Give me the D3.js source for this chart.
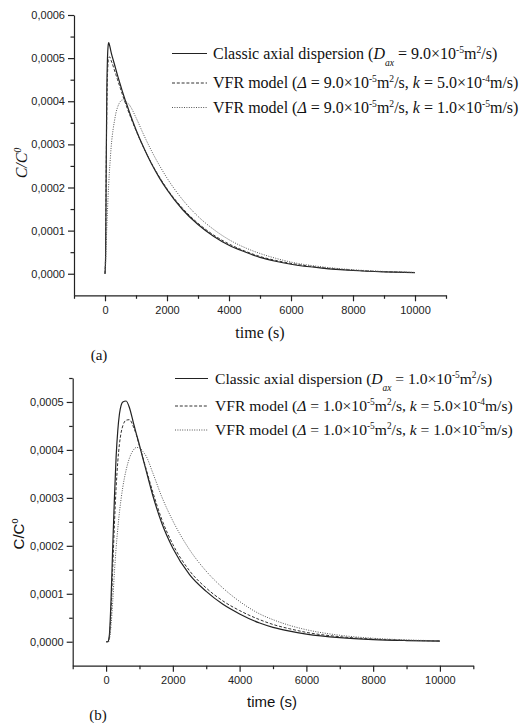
<!DOCTYPE html>
<html>
<head>
<meta charset="utf-8">
<script src="https://cdn.jsdelivr.net/npm/d3@7"></script>
<style>
  body { margin: 0; background: #fff; }
</style>
</head>
<body>
<div id="chart"></div>
<script>
// values of C/C0 are kept in units of 1e-4

// panel (a), D = 9.0e-5 m2/s
var timesA = [0, 20, 40, 60, 80, 100, 120, 140, 160, 200, 260, 300, 350, 400, 450, 500, 560, 600, 650, 700,
  800, 1000, 1250, 1500, 1750, 2000, 2500, 3000, 3500, 4000, 4500, 5000, 5500, 6000, 7000, 8000, 9000, 10000];
var classicA = [0, 0.4, 2.6, 4.3, 5.0, 5.28, 5.36, 5.32, 5.26, 5.13, 4.97, 4.87, 4.74, 4.61, 4.49, 4.37, 4.23, 4.14, 4.03, 3.93,
  3.72, 3.34, 2.92, 2.55, 2.23, 1.95, 1.49, 1.14, 0.87, 0.66, 0.51, 0.38, 0.29, 0.22, 0.13, 0.075, 0.044, 0.026];
var vfrFastA = [0, 0.6, 2.5, 3.9, 4.6, 4.9, 5.0, 5.03, 5.02, 4.94, 4.82, 4.73, 4.62, 4.51, 4.40, 4.29, 4.16, 4.07, 3.97, 3.87,
  3.68, 3.32, 2.92, 2.56, 2.25, 1.97, 1.52, 1.17, 0.9, 0.69, 0.53, 0.40, 0.31, 0.24, 0.14, 0.082, 0.047, 0.028];
var vfrSlowA = [0, 0.25, 0.7, 1.1, 1.45, 1.8, 2.08, 2.34, 2.55, 2.95, 3.34, 3.52, 3.72, 3.85, 3.94, 4.0, 4.03, 4.03, 4.01, 3.98,
  3.9, 3.62, 3.22, 2.85, 2.52, 2.22, 1.72, 1.33, 1.03, 0.79, 0.61, 0.47, 0.36, 0.27, 0.16, 0.093, 0.053, 0.03];

// panel (b), D = 1.0e-5 m2/s
var timesB = [0, 50, 80, 100, 150, 200, 250, 300, 350, 400, 450, 500, 600, 700, 820, 900, 1000, 1100, 1200, 1400,
  1670, 2000, 2500, 3000, 3500, 4000, 4600, 5000, 5500, 6000, 7000, 8000, 9000, 10000];
var classicB = [0, 0, 0.05, 0.15, 0.9, 2.0, 3.0, 3.85, 4.4, 4.75, 4.93, 5.0, 5.02, 4.88, 4.56, 4.35, 4.1, 3.83, 3.57, 3.05,
  2.47, 1.95, 1.4, 1.05, 0.78, 0.58, 0.39, 0.30, 0.22, 0.16, 0.085, 0.045, 0.025, 0.014];
var vfrFastB = [0, 0, 0.03, 0.1, 0.65, 1.55, 2.45, 3.2, 3.75, 4.12, 4.36, 4.5, 4.62, 4.63, 4.48, 4.33, 4.08, 3.85, 3.6, 3.12,
  2.55, 2.03, 1.48, 1.12, 0.85, 0.65, 0.46, 0.36, 0.27, 0.195, 0.105, 0.056, 0.03, 0.017];
var vfrSlowB = [0, 0, 0, 0.05, 0.35, 0.85, 1.45, 1.95, 2.35, 2.7, 2.98, 3.22, 3.58, 3.83, 4.0, 4.05, 4.05, 3.97, 3.87, 3.52,
  3.02, 2.52, 1.92, 1.47, 1.12, 0.84, 0.58, 0.46, 0.34, 0.25, 0.135, 0.072, 0.038, 0.02];

// ticks
var xMajor = [0, 2000, 4000, 6000, 8000, 10000];
var xMinor = [-1000, 1000, 3000, 5000, 7000, 9000, 11000];
var yMajorA = [0, 1, 2, 3, 4, 5, 6];
var yMinorA = [0.5, 1.5, 2.5, 3.5, 4.5, 5.5];
var yMajorB = [0, 1, 2, 3, 4, 5];
var yMinorB = [0.5, 1.5, 2.5, 3.5, 4.5, 5.5];

// legend entries: [text, style] pieces
var legendA = [
  [['Classic axial dispersion ('], ['D', 'i'], ['ax', 'isub'], [' = 9.0\u00d710'], ['-5', 'sup'], ['m'], ['2', 'sup'], ['/s)']],
  [['VFR model ('], ['\u0394', 'i'], [' = 9.0\u00d710'], ['-5', 'sup'], ['m'], ['2', 'sup'], ['/s, '], ['k', 'i'], [' = 5.0\u00d710'], ['-4', 'sup'], ['m/s)']],
  [['VFR model ('], ['\u0394', 'i'], [' = 9.0\u00d710'], ['-5', 'sup'], ['m'], ['2', 'sup'], ['/s, '], ['k', 'i'], [' = 1.0\u00d710'], ['-5', 'sup'], ['m/s)']]
];
var legendB = [
  [['Classic axial dispersion ('], ['D', 'i'], ['ax', 'isub'], [' = 1.0\u00d710'], ['-5', 'sup'], ['m'], ['2', 'sup'], ['/s)']],
  [['VFR model ('], ['\u0394', 'i'], [' = 1.0\u00d710'], ['-5', 'sup'], ['m'], ['2', 'sup'], ['/s, '], ['k', 'i'], [' = 5.0\u00d710'], ['-4', 'sup'], ['m/s)']],
  [['VFR model ('], ['\u0394', 'i'], [' = 1.0\u00d710'], ['-5', 'sup'], ['m'], ['2', 'sup'], ['/s, '], ['k', 'i'], [' = 1.0\u00d710'], ['-5', 'sup'], ['m/s)']]
];

var SERIF = '"Liberation Serif", "Times New Roman", serif';
var SANS = '"Liberation Sans", Arial, sans-serif';

var lineStyles = [
  { stroke: '#222', width: 1.2, dash: null },
  { stroke: '#333', width: 1, dash: '3,1.8' },
  { stroke: '#555', width: 1, dash: '1,1.4' }
];

var svg = d3.select('#chart').append('svg')
  .attr('width', 521)
  .attr('height', 723);

// text with italic / sub / superscript pieces
function richText(g, x, y, parts, size, family) {
  var t = g.append('text')
    .attr('x', x)
    .attr('y', y)
    .style('font-family', family)
    .style('font-size', size + 'px')
    .style('fill', '#111');
  var shift = 0;
  parts.forEach(function (p) {
    var kind = p[1] || '';
    var s = t.append('tspan').text(p[0]);
    var target = 0;
    if (kind === 'sub' || kind === 'isub') target = 0.45 * size;
    if (kind === 'sup') target = -0.37 * size;
    if (target - shift !== 0) s.attr('dy', target - shift);
    shift = target;
    if (kind === 'sub' || kind === 'isub' || kind === 'sup') s.style('font-size', (size * 0.6) + 'px');
    if (kind === 'i' || kind === 'isub') s.style('font-style', 'italic');
  });
  return t;
}

function fmtY(d) {
  return (d / 10000).toFixed(4).replace('.', ',');
}

function drawPanel(p) {
  var g = svg.append('g');

  var x = d3.scaleLinear().domain([-1000, 11000]).range([p.left, p.right]);
  var y = d3.scaleLinear().domain(p.yDomain).range([p.bottom, p.top]);

  var series = [p.classic, p.fast, p.slow];
  series.forEach(function (vals, i) {
    var pts = p.times.map(function (t, j) { return [t, vals[j]]; });
    var line = d3.line()
      .curve(d3.curveMonotoneX)
      .x(function (d) { return x(d[0]); })
      .y(function (d) { return y(d[1]); });
    g.append('path')
      .datum(pts)
      .attr('fill', 'none')
      .attr('stroke', lineStyles[i].stroke)
      .attr('stroke-width', lineStyles[i].width)
      .attr('stroke-dasharray', lineStyles[i].dash)
      .attr('d', line);
  });

  // x axis
  g.append('g')
    .attr('transform', 'translate(0,' + p.bottom + ')')
    .call(d3.axisBottom(x).tickValues(xMajor).tickSize(6).tickSizeOuter(0).tickPadding(5)
      .tickFormat(d3.format('d')));
  g.append('g')
    .attr('transform', 'translate(0,' + p.bottom + ')')
    .call(d3.axisBottom(x).tickValues(xMinor).tickSize(3.5).tickSizeOuter(0).tickFormat(''))
    .select('.domain').remove();

  // y axis
  g.append('g')
    .attr('transform', 'translate(' + p.left + ',0)')
    .call(d3.axisLeft(y).tickValues(p.yMajor).tickSize(6).tickSizeOuter(0).tickPadding(3)
      .tickFormat(fmtY));
  g.append('g')
    .attr('transform', 'translate(' + p.left + ',0)')
    .call(d3.axisLeft(y).tickValues(p.yMinor).tickSize(3.5).tickSizeOuter(0).tickFormat(''))
    .select('.domain').remove();

  g.selectAll('.domain, .tick line')
    .attr('stroke', '#222')
    .attr('stroke-width', 1.2);
  g.selectAll('.tick text')
    .attr('fill', '#222')
    .style('font-family', SANS)
    .style('font-size', '11px');

  // legend
  p.legend.forEach(function (parts, i) {
    var ly = p.legendY[i];
    g.append('line')
      .attr('x1', p.legendLine[0])
      .attr('x2', p.legendLine[1])
      .attr('y1', ly)
      .attr('y2', ly)
      .attr('stroke', lineStyles[i].stroke)
      .attr('stroke-width', lineStyles[i].width)
      .attr('stroke-dasharray', lineStyles[i].dash);
    richText(g, p.legendText, ly + 5, parts, p.legendSize, SERIF);
  });

  // axis titles
  var yt = richText(g, 0, 0, [['C/C', p.titleItalic ? 'i' : ''], ['0', 'sup']], p.titleSize, p.titleFont);
  yt.attr('transform', 'translate(' + p.yTitle[0] + ',' + p.yTitle[1] + ') rotate(-90)')
    .style('text-anchor', 'middle');
  if (p.titleItalic) yt.selectAll('tspan').style('font-style', 'italic');

  g.append('text')
    .attr('x', p.xTitle[0])
    .attr('y', p.xTitle[1])
    .style('text-anchor', 'middle')
    .style('font-family', p.titleFont)
    .style('font-size', p.titleSize + 'px')
    .style('fill', '#111')
    .text('time (s)');

  g.append('text')
    .attr('x', p.tag[0])
    .attr('y', p.tag[1])
    .style('text-anchor', 'middle')
    .style('font-family', SERIF)
    .style('font-size', '15px')
    .style('fill', '#111')
    .text(p.tagText);
}

drawPanel({
  left: 74, right: 446, top: 15, bottom: 295.3,
  yDomain: [-0.5, 6], yMajor: yMajorA, yMinor: yMinorA,
  times: timesA, classic: classicA, fast: vfrFastA, slow: vfrSlowA,
  legend: legendA, legendY: [53.5, 83, 107.5], legendLine: [172, 207], legendText: 213, legendSize: 16,
  titleFont: SERIF, titleSize: 16, titleItalic: true,
  yTitle: [27, 163], xTitle: [260, 338], tag: [99, 360], tagText: '(a)'
});

drawPanel({
  left: 72.7, right: 473.3, top: 378, bottom: 665.7,
  yDomain: [-0.5, 5.5], yMajor: yMajorB, yMinor: yMinorB,
  times: timesB, classic: classicB, fast: vfrFastB, slow: vfrSlowB,
  legend: legendB, legendY: [378.5, 406, 430], legendLine: [175, 208], legendText: 215, legendSize: 15.6,
  titleFont: SANS, titleSize: 15, titleItalic: false,
  yTitle: [24, 534], xTitle: [272, 707], tag: [98, 720], tagText: '(b)'
});
</script>
</body>
</html>
